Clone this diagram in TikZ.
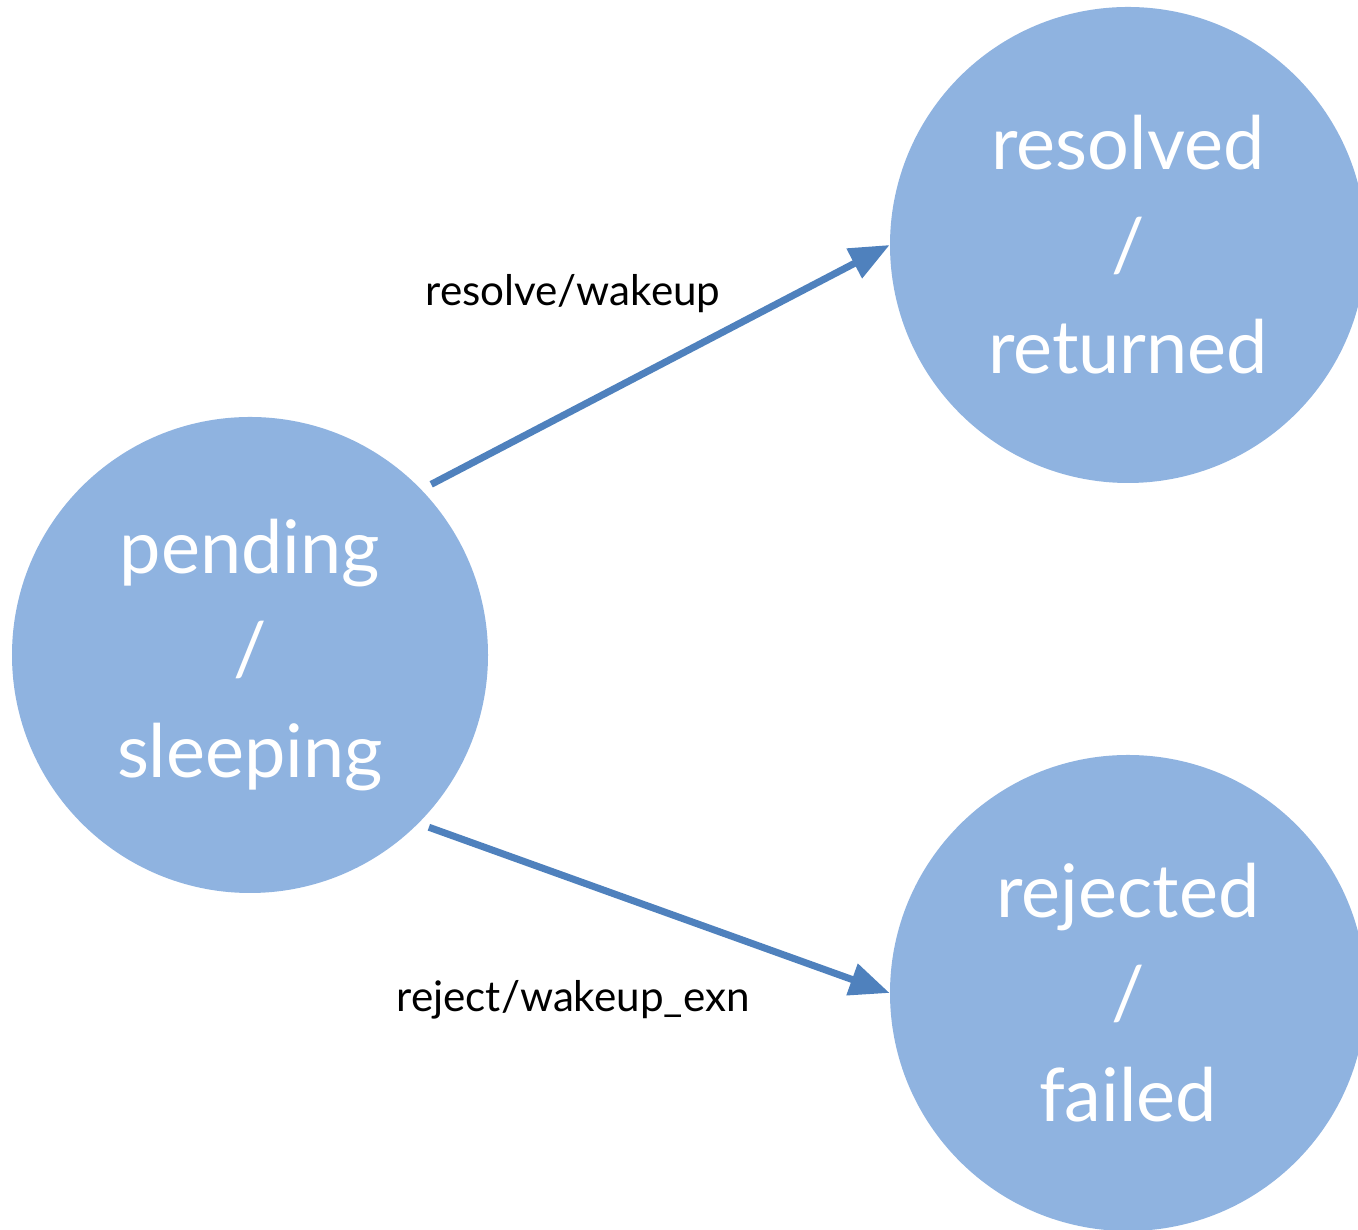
\documentclass[tikz,border=0pt]{standalone}
\usepackage{fontspec}
\setmainfont{Lato}
\usetikzlibrary{arrows.meta}
\definecolor{stlight}{RGB}{143,179,224}
\definecolor{stdark}{RGB}{79,129,189}

\begin{document}
\begin{tikzpicture}[
  state/.style={circle, fill=stlight, draw=none, minimum size=9.52cm, inner sep=0pt, align=center, text=white, font=\fontsize{42}{58}\selectfont},
  trans/.style={font=\fontsize{24}{28}\selectfont, text=black},
  arrow/.style={-{Triangle[length=0.8cm, width=0.64cm]}, line width=4pt, color=stdark}
]
\useasboundingbox (0,0) rectangle (27.16,24.6);

% States
\node[state] (pending) at (5.0,11.5) {pending\\/\\sleeping};
\node[state] (resolved) at (22.56,19.7) {resolved\\/\\returned};
\node[state] (rejected) at (22.56,4.74) {rejected\\/\\failed};

% Transitions
\draw[arrow, shorten <=0.22cm] (pending.44) -- (resolved.west);
\draw[arrow, shorten <=0.22cm] (pending.-45.5) -- (rejected.west);

% Labels
\node[trans] (lres) at (11.46,18.72) {resolve/wakeup};
\node[trans] (lrej) at (11.46,4.6) {reject/wakeup\_exn};

\end{tikzpicture}
\end{document}
